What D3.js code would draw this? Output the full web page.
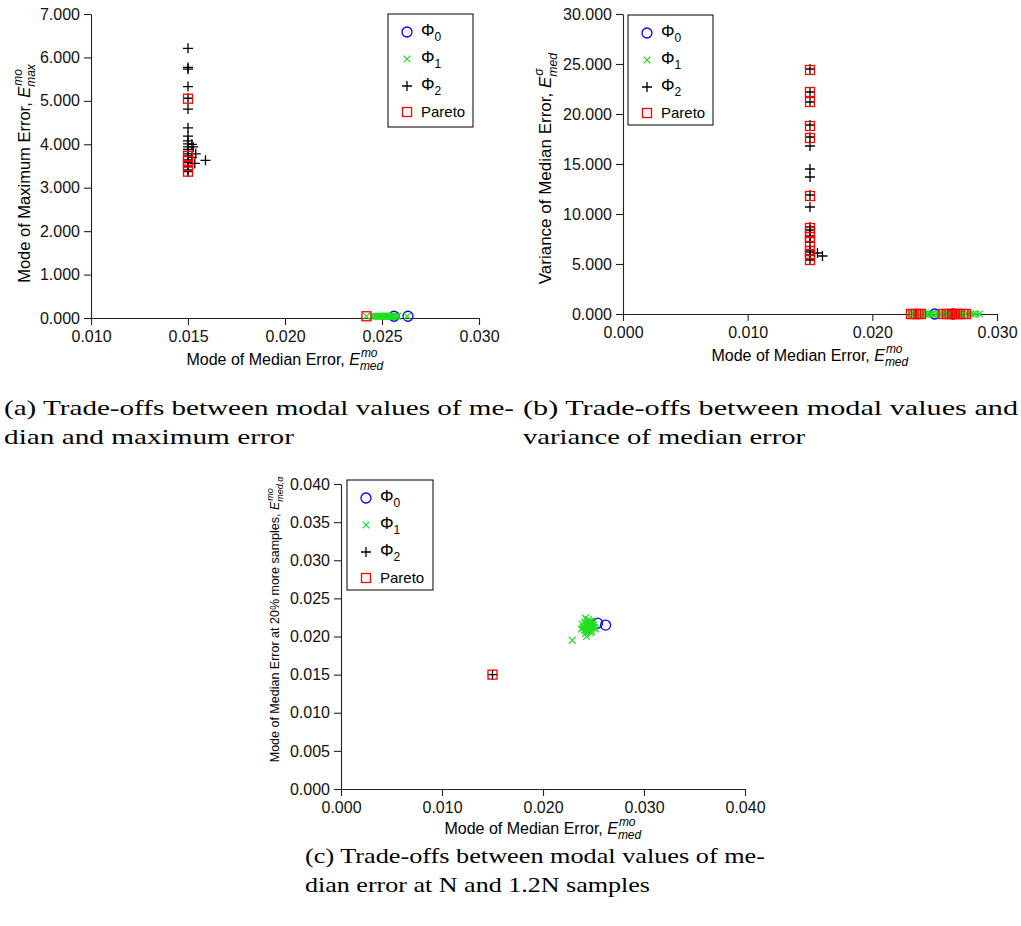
<!DOCTYPE html>
<html><head><meta charset="utf-8">
<script src="https://cdn.jsdelivr.net/npm/d3@7"></script>
<style>body{margin:0;background:#fff}</style>
</head><body>
<svg id="c" width="1021" height="926"></svg>
<script>
// ---------------- DATA ----------------
// Panel (a): x = mode of median error, y = mode of maximum error
const a_xTicks = [0.010, 0.015, 0.020, 0.025, 0.030];
const a_yTicks = [0, 1, 2, 3, 4, 5, 6, 7];
const a_phi0 = [[0.02562, 0.04], [0.02634, 0.04]];
const a_phi1 = [[0.0242,0.04],[0.0245,0.04],[0.0246,0.04],[0.0247,0.04],[0.0248,0.04],[0.02485,0.04],[0.0249,0.04],[0.02495,0.04],[0.0250,0.04],[0.02505,0.04],[0.0251,0.04],[0.02515,0.04],[0.0252,0.04],[0.02525,0.04],[0.0253,0.04],[0.02535,0.04],[0.0254,0.04],[0.02545,0.04],[0.0255,0.04],[0.02555,0.04],[0.0256,0.04],[0.0257,0.04],[0.0258,0.04],[0.0263,0.04]];
const a_phi2 = [[0.015,6.21],[0.015,5.77],[0.015,5.73],[0.015,5.33],[0.015,5.06],[0.015,4.81],[0.015,4.38],[0.015,4.19],[0.015,4.08],[0.015,4.01],[0.015,3.94],[0.015,3.88],[0.015,3.78],[0.015,3.73],[0.015,3.64],[0.015,3.62],[0.015,3.58],[0.015,3.50],[0.015,3.41],[0.015,3.37],[0.01527,3.94],[0.0152,4.0],[0.0154,3.78],[0.0159,3.63],[0.01535,3.56],[0.0152,3.70]];
const a_pareto = [[0.015,5.05],[0.015,3.73],[0.015,3.62],[0.015,3.50],[0.015,3.37],[0.0242,0.04]];

// Panel (b): x = mode of median error, y = variance of median error
const b_xTicks = [0.000, 0.010, 0.020, 0.030];
const b_yTicks = [0, 5, 10, 15, 20, 25, 30];
const b_phi0 = [[0.0250, 0], [0.02647, 0]];
const b_phi1 = [[0.0231,0],[0.0233,0],[0.0235,0],[0.0237,0],[0.0239,0],[0.0240,0],[0.0242,0],[0.0244,0],[0.0246,0],[0.0247,0],[0.0248,0],[0.0251,0],[0.0253,0],[0.0254,0],[0.0256,0],[0.0258,0],[0.0260,0],[0.0262,0],[0.0264,0],[0.0266,0],[0.0268,0],[0.0270,0],[0.0272,0],[0.0275,0],[0.0277,0],[0.0279,0],[0.0281,0],[0.0283,0],[0.0286,0]];
const b_phi2 = [[0.015,24.5],[0.015,22.2],[0.015,21.2],[0.015,18.9],[0.015,17.7],[0.015,16.8],[0.015,14.5],[0.015,13.7],[0.015,11.9],[0.015,10.7],[0.015,8.7],[0.015,8.4],[0.015,7.8],[0.015,7.2],[0.015,6.4],[0.015,6.2],[0.015,5.9],[0.015,5.4],[0.0156,6.1],[0.0160,5.8]];
const b_pareto = [[0.015,24.4],[0.015,22.2],[0.015,21.2],[0.015,18.8],[0.015,17.6],[0.015,11.8],[0.015,8.6],[0.015,8.2],[0.015,7.7],[0.015,7.2],[0.015,6.3],[0.015,6.0],[0.015,5.4],
  [0.0231,0],[0.0233,0],[0.0235,0],[0.0237,0],[0.0239,0],[0.0257,0],[0.0260,0],[0.0262,0],[0.0264,0],[0.0266,0],[0.0268,0],[0.0270,0],[0.0273,0],[0.0275,0]];

// Panel (c): x = mode of median error at N, y = at 1.2N
const c_xTicks = [0.000, 0.010, 0.020, 0.030, 0.040];
const c_yTicks = [0.000, 0.005, 0.010, 0.015, 0.020, 0.025, 0.030, 0.035, 0.040];
const c_phi0 = [[0.0254, 0.02175], [0.0262, 0.0215]];
const c_phi1 = [[0.0229,0.0195],[0.0243,0.0200],[0.0242,0.0224],[0.0245,0.0222],[0.0247,0.0220],[0.0244,0.0218],[0.0240,0.0212],[0.0238,0.0210],[0.0241,0.0208],[0.0243,0.0214],[0.0245,0.0216],[0.0247,0.0213],[0.0249,0.0211],[0.0246,0.0209],[0.0248,0.0207],[0.0250,0.0215],[0.0251,0.0212],[0.0244,0.0206],[0.0242,0.0204],[0.0239,0.0216],[0.0246,0.0219],[0.0248,0.0217],[0.0250,0.0219],[0.0245,0.0211],[0.0243,0.0209],[0.0247,0.0205],[0.0249,0.0214],[0.0252,0.0210],[0.0241,0.0219],[0.0244,0.0221]];
const c_phi2 = [[0.015, 0.015]];
const c_pareto = [[0.015, 0.015]];

const legendLabels = ["0", "1", "2", "Pareto"];
const captionA = ["(a) Trade-offs between modal values of me-", "dian and maximum error"];
const captionB = ["(b) Trade-offs between modal values and", "variance of median error"];
const captionC = ["(c) Trade-offs between modal values of me-", "dian error at N and 1.2N samples"];

// ---------------- DRAWING ----------------
const SANS = "'Liberation Sans', Arial, Helvetica, sans-serif";
const SERIF = "'Liberation Serif', 'Times New Roman', serif";
const COL = {phi0: "#0000ff", phi1: "#22dd22", phi2: "#000000", pareto: "#ff0000"};
const svg = d3.select("#c");
const fmt = d3.format(".3f");

function marker(g, kind, px, py) {
  if (kind === "phi0") {
    g.append("circle").attr("cx", px).attr("cy", py).attr("r", 5)
      .attr("fill", "none").attr("stroke", COL.phi0).attr("stroke-width", 1.3);
  } else if (kind === "phi1") {
    const s = 3.4;
    g.append("path").attr("d", `M${px-s},${py-s}L${px+s},${py+s}M${px-s},${py+s}L${px+s},${py-s}`)
      .attr("stroke", COL.phi1).attr("stroke-width", 1.3).attr("fill", "none");
  } else if (kind === "phi2") {
    const s = 5;
    g.append("path").attr("d", `M${px-s},${py}L${px+s},${py}M${px},${py-s}L${px},${py+s}`)
      .attr("stroke", COL.phi2).attr("stroke-width", 1.3).attr("fill", "none");
  } else {
    const s = 4.5;
    g.append("rect").attr("x", px-s).attr("y", py-s).attr("width", 2*s).attr("height", 2*s)
      .attr("fill", "none").attr("stroke", COL.pareto).attr("stroke-width", 1.3);
  }
}

function mathTitle(parent, cx, cy, rot, base, supT, subT, fs, sfs) {
  const t = parent.append("text")
    .attr("transform", `translate(${cx},${cy}) rotate(${rot})`)
    .style("font-family", SANS).style("font-size", fs + "px").attr("fill", "#000");
  t.append("tspan").text(base);
  t.append("tspan").style("font-style", "italic").text("E");
  const sup = t.append("tspan").style("font-style", "italic").style("font-size", sfs + "px")
    .attr("dx", 1).attr("dy", -0.47 * fs).text(supT);
  const w = sup.node().getComputedTextLength();
  t.append("tspan").style("font-style", "italic").style("font-size", sfs + "px")
    .attr("dx", -w - 1).attr("dy", 0.47 * fs + 0.33 * fs).text(subT);
  const bb = t.node().getBBox();
  t.attr("x", -(bb.x + bb.width / 2));
  return t;
}

function legend(parent, x0, y0, w, h) {
  const g = parent.append("g");
  g.append("rect").attr("x", x0).attr("y", y0).attr("width", w).attr("height", h)
    .attr("fill", "#fff").attr("stroke", "#000").attr("stroke-width", 1);
  const kinds = ["phi0", "phi1", "phi2", "pareto"];
  const rows = [18, 45, 72, 98];
  kinds.forEach((k, i) => {
    const yy = y0 + rows[i];
    marker(g, k, x0 + 19, yy);
    const t = g.append("text").attr("x", x0 + 33).attr("y", yy + 5)
      .style("font-family", SANS).style("font-size", "15px");
    if (k === "pareto") {
      t.text(legendLabels[i]);
    } else {
      t.attr("y", yy + 4);
      t.append("tspan").style("font-size", "17px").text("\u03A6");
      t.append("tspan").style("font-size", "12px").attr("dy", 5).text(legendLabels[i]);
    }
  });
}

function panel(cfg) {
  const x = d3.scaleLinear().domain(cfg.xDomain).range(cfg.xRange);
  const y = d3.scaleLinear().domain(cfg.yDomain).range(cfg.yRange);
  const g = svg.append("g");
  const gx = g.append("g").attr("transform", `translate(0,${cfg.yRange[0]})`)
    .call(d3.axisBottom(x).tickValues(cfg.xTicks).tickFormat(fmt).tickSize(7).tickPadding(6).tickSizeOuter(0));
  const gy = g.append("g").attr("transform", `translate(${cfg.xRange[0]},0)`)
    .call(d3.axisLeft(y).tickValues(cfg.yTicks).tickFormat(fmt).tickSize(7).tickPadding(4).tickSizeOuter(0));
  [gx, gy].forEach(a => {
    a.attr("font-family", SANS).attr("font-size", 16);
    a.selectAll("path,line").attr("stroke", "#222").attr("stroke-width", 1.1);
    a.selectAll("text").attr("fill", "#111");
  });
  const m = g.append("g");
  cfg.series.forEach(s => s.data.forEach(d => marker(m, s.kind, x(d[0]), y(d[1]))));
  legend(g, cfg.legend[0], cfg.legend[1], cfg.legend[2], cfg.legend[3]);
  const xc = (cfg.xRange[0] + cfg.xRange[1]) / 2;
  mathTitle(g, xc, cfg.yRange[0] + cfg.xTitleDy, 0, "Mode of Median Error, ", "mo", "med", 16, 12);
  mathTitle(g, cfg.yTitleX, cfg.yTitleY, -90, cfg.yTitle[0], cfg.yTitle[1], cfg.yTitle[2], cfg.yTitleFs, cfg.yTitleFs * 0.72);
}

panel({
  xDomain: [0.010, 0.030], xRange: [91, 479], yDomain: [0, 7], yRange: [318, 14],
  xTicks: a_xTicks, yTicks: a_yTicks, xTitleDy: 47,
  series: [{kind: "phi0", data: a_phi0}, {kind: "phi1", data: a_phi1}, {kind: "phi2", data: a_phi2}, {kind: "pareto", data: a_pareto}],
  legend: [388, 14, 85, 113],
  yTitle: ["Mode of Maximum Error, ", "mo", "max"], yTitleX: 30, yTitleY: 173, yTitleFs: 16.5
});
panel({
  xDomain: [0, 0.030], xRange: [623, 997], yDomain: [0, 30], yRange: [314, 14],
  xTicks: b_xTicks, yTicks: b_yTicks, xTitleDy: 47,
  series: [{kind: "phi0", data: b_phi0}, {kind: "phi1", data: b_phi1}, {kind: "phi2", data: b_phi2}, {kind: "pareto", data: b_pareto}],
  legend: [628, 15, 85, 110],
  yTitle: ["Variance of Median Error, ", "\u03C3", "med"], yTitleX: 551, yTitleY: 168, yTitleFs: 17
});
panel({
  xDomain: [0, 0.040], xRange: [341, 745], yDomain: [0, 0.040], yRange: [789, 484],
  xTicks: c_xTicks, yTicks: c_yTicks, xTitleDy: 45,
  series: [{kind: "phi0", data: c_phi0}, {kind: "phi1", data: c_phi1}, {kind: "phi2", data: c_phi2}, {kind: "pareto", data: c_pareto}],
  legend: [347, 480, 86, 110],
  yTitle: ["Mode of Median Error at 20% more samples, ", "mo", "med,\u03B1"], yTitleX: 279, yTitleY: 619, yTitleFs: 12.5
});

// captions
function caption(lines, x, y0, widths) {
  lines.forEach((l, i) => {
    svg.append("text").attr("x", x).attr("y", y0 + i * 29)
      .style("font-family", SERIF).style("font-size", "22px").attr("fill", "#000")
      .attr("textLength", widths[i]).attr("lengthAdjust", "spacingAndGlyphs").text(l);
  });
}
caption(captionA, 4, 415, [510, 290]);
caption(captionB, 523, 415, [495, 282]);
caption(captionC, 305, 863, [460, 345]);
</script></body></html>
